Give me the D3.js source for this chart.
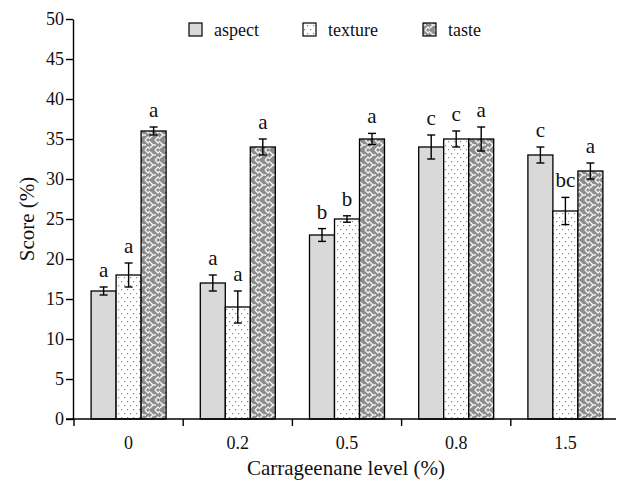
<!DOCTYPE html>
<html>
<head>
<meta charset="utf-8">
<script src="https://cdn.jsdelivr.net/npm/d3@7"></script>
<style>
  body { margin: 0; background: #fff; }
  text { font-family: "Liberation Serif", "DejaVu Serif", serif; }
</style>
</head>
<body>
<div id="chart"></div>
<script>
// data
var levels = ["0", "0.2", "0.5", "0.8", "1.5"];
var seriesNames = ["aspect", "texture", "taste"];
var aspectVals = [16, 17, 23, 34, 33];
var textureVals = [18, 14, 25, 35, 26];
var tasteVals = [36, 34, 35, 35, 31];
var aspectErr = [0.5, 1, 0.8, 1.5, 1];
var textureErr = [1.5, 2, 0.4, 1, 1.7];
var tasteErr = [0.5, 1, 0.7, 1.5, 1];
var aspectLetters = ["a", "a", "b", "c", "c"];
var textureLetters = ["a", "a", "b", "c", "bc"];
var tasteLetters = ["a", "a", "a", "a", "a"];
var yTicks = [0, 5, 10, 15, 20, 25, 30, 35, 40, 45, 50];

var svgWidth = 630;
var svgHeight = 480;

var svg = d3.select("#chart")
  .append("svg")
  .attr("width", svgWidth)
  .attr("height", svgHeight);

// patterns for the fills
var defs = svg.append("defs");

var dots = defs.append("pattern")
  .attr("id", "dots")
  .attr("patternUnits", "userSpaceOnUse")
  .attr("width", 6)
  .attr("height", 8);
dots.append("rect").attr("width", 6).attr("height", 8).attr("fill", "#fff");
dots.append("rect").attr("x", 1).attr("y", 1).attr("width", 1.2).attr("height", 1.2).attr("fill", "#888");
dots.append("rect").attr("x", 4).attr("y", 5).attr("width", 1.2).attr("height", 1.2).attr("fill", "#888");

var weave = defs.append("pattern")
  .attr("id", "weave")
  .attr("patternUnits", "userSpaceOnUse")
  .attr("width", 10)
  .attr("height", 10);
weave.append("rect").attr("width", 10).attr("height", 10).attr("fill", "#8c8c8c");
weave.append("path")
  .attr("d", "M0,2 L3,5 L0,8 M5,0 L8,3 L10,1 M5,10 L8,7 L10,9 M3,5 L6,5")
  .attr("fill", "none")
  .attr("stroke", "#f2f2f2")
  .attr("stroke-width", 1.4);

var fills = ["#d9d9d9", "url(#dots)", "url(#weave)"];

// scales
var x0 = d3.scaleBand()
  .domain(levels)
  .range([74, 620]);

var x1 = d3.scaleBand()
  .domain(seriesNames)
  .range([0, 75]);

var y = d3.scaleLinear()
  .domain([0, 50])
  .range([419, 19]);

// build rows for drawing
var vals = [aspectVals, textureVals, tasteVals];
var errs = [aspectErr, textureErr, tasteErr];
var letters = [aspectLetters, textureLetters, tasteLetters];
var rows = [];
levels.forEach(function(lv, i) {
  seriesNames.forEach(function(s, j) {
    rows.push({level: lv, series: s, idx: j, value: vals[j][i], err: errs[j][i], letter: letters[j][i]});
  });
});

var barX = function(d) {
  return x0(d.level) + x0.bandwidth() / 2 - 37.5 + x1(d.series);
};

// bars
svg.append("g").selectAll("rect")
  .data(rows)
  .enter()
  .append("rect")
  .attr("x", barX)
  .attr("y", d => y(d.value))
  .attr("width", x1.bandwidth())
  .attr("height", d => y(0) - y(d.value))
  .attr("fill", d => fills[d.idx])
  .attr("stroke", "#000")
  .attr("stroke-width", 1.3);

// error bars
var errG = svg.append("g").attr("stroke", "#000").attr("stroke-width", 1.4);
rows.forEach(function(d) {
  var cx = barX(d) + x1.bandwidth() / 2;
  errG.append("line").attr("x1", cx).attr("x2", cx).attr("y1", y(d.value + d.err)).attr("y2", y(d.value - d.err));
  errG.append("line").attr("x1", cx - 4).attr("x2", cx + 4).attr("y1", y(d.value + d.err)).attr("y2", y(d.value + d.err));
  errG.append("line").attr("x1", cx - 4).attr("x2", cx + 4).attr("y1", y(d.value - d.err)).attr("y2", y(d.value - d.err));
});

// significance letters
svg.append("g").selectAll("text")
  .data(rows)
  .enter()
  .append("text")
  .attr("x", d => barX(d) + x1.bandwidth() / 2)
  .attr("y", d => y(d.value + d.err) - 10)
  .attr("text-anchor", "middle")
  .attr("font-size", "21px")
  .attr("fill", "#111")
  .text(d => d.letter);

// y axis
var leftAxis = d3.axisLeft(y).tickValues(yTicks).tickSize(7).tickSizeOuter(0);
var yAxisG = svg.append("g")
  .attr("transform", "translate(73,0)")
  .call(leftAxis);
yAxisG.selectAll("text").attr("font-size", "18px").attr("fill", "#111").attr("x", -9);
yAxisG.select(".domain").attr("stroke-width", 1.4);
yAxisG.selectAll(".tick line").attr("stroke-width", 1.4);

// x axis: ticks at group borders, labels at centers
svg.append("line")
  .attr("x1", 66).attr("x2", 616)
  .attr("y1", y(0)).attr("y2", y(0))
  .attr("stroke", "#000").attr("stroke-width", 1.4);

svg.append("g").selectAll("line")
  .data(levels)
  .enter()
  .append("line")
  .attr("x1", d => x0(d)).attr("x2", d => x0(d))
  .attr("y1", y(0)).attr("y2", y(0) + 7)
  .attr("stroke", "#000").attr("stroke-width", 1.4);

svg.append("g").selectAll("text")
  .data(levels)
  .enter()
  .append("text")
  .attr("x", d => x0(d) + x0.bandwidth() / 2)
  .attr("y", 449)
  .attr("text-anchor", "middle")
  .attr("font-size", "18px")
  .attr("fill", "#111")
  .text(d => d);

// axis titles
svg.append("text")
  .attr("x", 346)
  .attr("y", 475)
  .attr("text-anchor", "middle")
  .attr("font-size", "21px")
  .attr("fill", "#111")
  .text("Carrageenane level (%)");

svg.append("text")
  .attr("transform", "translate(34,219) rotate(-90)")
  .attr("text-anchor", "middle")
  .attr("font-size", "21px")
  .attr("fill", "#111")
  .text("Score (%)");

// legend
var legendX = [189, 303, 423];
var legend = svg.append("g");
seriesNames.forEach(function(s, j) {
  legend.append("rect")
    .attr("x", legendX[j]).attr("y", 23)
    .attr("width", 13).attr("height", 13)
    .attr("fill", fills[j])
    .attr("stroke", "#000").attr("stroke-width", 1.2);
  legend.append("text")
    .attr("x", legendX[j] + 25).attr("y", 36)
    .attr("font-size", "18px")
    .attr("fill", "#111")
    .text(s);
});
</script>
</body>
</html>
